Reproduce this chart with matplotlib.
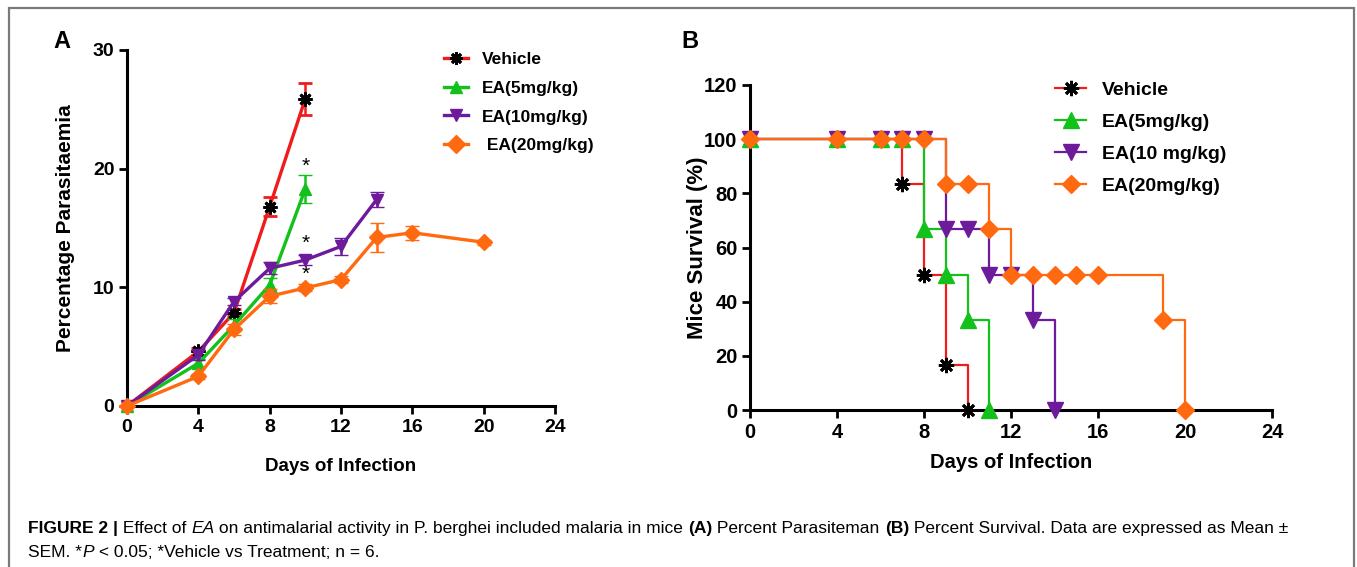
import matplotlib
matplotlib.use("Agg")
import matplotlib.pyplot as plt
from matplotlib.lines import Line2D
from matplotlib.patches import Rectangle
from matplotlib.transforms import IdentityTransform

# ---- panel A: percentage parasitaemia (mean +/- SEM) ----
days_vehicle = [0, 4, 6, 8, 10]
para_vehicle = [0, 4.6, 7.85, 16.8, 25.9]
sem_vehicle = [0, 0.3, 0.3, 0.8, 1.35]

days_ea5 = [0, 4, 6, 8, 10]
para_ea5 = [0, 3.6, 6.8, 10.2, 18.3]
sem_ea5 = [0, 0.4, 0.5, 0.6, 1.2]

days_ea10 = [0, 4, 6, 8, 10, 12, 14]
para_ea10 = [0, 4.3, 8.8, 11.6, 12.3, 13.45, 17.4]
sem_ea10 = [0, 0.4, 0.3, 0.5, 0.4, 0.7, 0.6]

days_ea20 = [0, 4, 6, 8, 10, 12, 14, 16, 20]
para_ea20 = [0, 2.5, 6.45, 9.25, 9.95, 10.65, 14.2, 14.6, 13.8]
sem_ea20 = [0, 0.2, 0.5, 0.6, 0.3, 0.3, 1.25, 0.6, 0.2]

# significance stars (day, level)
star_x = [10, 10, 10]
star_y = [20.2, 13.7, 11.1]

# ---- panel B: survival ----
surv_days_vehicle = [0, 4, 6, 7, 8, 9, 10]
surv_vehicle = [100, 100, 100, 83.3, 50, 16.7, 0]

surv_days_ea5 = [0, 4, 6, 7, 8, 9, 10, 11]
surv_ea5 = [100, 100, 100, 100, 66.7, 50, 33.3, 0]

surv_days_ea10 = [0, 4, 6, 7, 8, 9, 10, 11, 12, 13, 14]
surv_ea10 = [100, 100, 100, 100, 100, 66.7, 66.7, 50, 50, 33.3, 0]

surv_days_ea20 = [0, 4, 6, 7, 8, 9, 10, 11, 12, 13, 14, 15, 16, 19, 20]
surv_ea20 = [100, 100, 100, 100, 100, 83.3, 83.3, 66.7, 50, 50, 50, 50, 50, 33.3, 0]

labels_a = ["Vehicle", "EA(5mg/kg)", "EA(10mg/kg)", " EA(20mg/kg)"]
labels_b = ["Vehicle", "EA(5mg/kg)", "EA(10 mg/kg)", "EA(20mg/kg)"]

RED = "#f01c1c"
GREEN = "#12c11a"
PURPLE = "#6d1b9b"
ORANGE = "#ff6a10"
colors = [RED, GREEN, PURPLE, ORANGE]
markers = [(8, 2, 0), "^", "v", "D"]

SANS = ["Liberation Sans", "DejaVu Sans"]

W, H = 1357, 567
fig = plt.figure(figsize=(W / 100, H / 100), dpi=100)


def px_axes(x0, y0, x1, y1):
    # pixel box (top-left origin) -> figure fraction axes
    return fig.add_axes([x0 / W, 1 - y1 / H, (x1 - x0) / W, (y1 - y0) / H])


def style_axes(ax, tick_size):
    for s in ["top", "right"]:
        ax.spines[s].set_visible(False)
    for s in ["left", "bottom"]:
        ax.spines[s].set_linewidth(2.2)
    ax.tick_params(width=2, length=6, direction="out", pad=3)
    for lab in ax.get_xticklabels() + ax.get_yticklabels():
        lab.set_family(SANS)
        lab.set_fontweight("bold")
        lab.set_fontsize(tick_size)


# ---------------- Panel A ----------------
axA = px_axes(127, 50, 555, 406)
seriesA = [
    (days_vehicle, para_vehicle, sem_vehicle),
    (days_ea5, para_ea5, sem_ea5),
    (days_ea10, para_ea10, sem_ea10),
    (days_ea20, para_ea20, sem_ea20),
]
for i, (x, y, e) in enumerate(seriesA):
    mec = "black" if i == 0 else colors[i]
    ms = 10 if i == 0 else (9 if i < 3 else 8)
    axA.errorbar(x, y, yerr=e, color=colors[i], lw=2.4, elinewidth=1.8,
                 capsize=5, capthick=1.8, marker=markers[i], ms=ms,
                 mfc=mec, mec=mec, mew=2 if i == 0 else 1,
                 clip_on=False, zorder=3 + i)
for sx, sy in zip(star_x, star_y):
    axA.text(sx, sy, "*", ha="center", va="center", fontsize=15,
             family=SANS, color="black")
axA.set_xlim(0, 24)
axA.set_ylim(0, 30)
axA.set_xticks(range(0, 25, 4))
axA.set_yticks([0, 10, 20, 30])
style_axes(axA, 14)
axA.set_xlabel("Days of Infection", family=SANS, fontweight="bold",
               fontsize=13.5, labelpad=16)
axA.set_ylabel("Percentage Parasitaemia", family=SANS, fontweight="bold",
               fontsize=15, labelpad=13)

handlesA = [Line2D([], [], color=colors[i], lw=2.4, marker=markers[i],
                   ms=9, mfc="black" if i == 0 else colors[i],
                   mec="black" if i == 0 else colors[i], mew=2 if i == 0 else 1)
            for i in range(4)]
legA = fig.legend(handlesA, labels_a, loc="upper left",
                  bbox_to_anchor=(444 / W, 1 - 52 / H), frameon=False,
                  prop={"family": SANS, "weight": "bold", "size": 12.5},
                  handlelength=1.4, handletextpad=0.8, labelspacing=0.78,
                  borderaxespad=0, borderpad=0)

# ---------------- Panel B ----------------
axB = px_axes(750, 85, 1272, 410)
seriesB = [
    (surv_days_vehicle, surv_vehicle),
    (surv_days_ea5, surv_ea5),
    (surv_days_ea10, surv_ea10),
    (surv_days_ea20, surv_ea20),
]
for i, (x, y) in enumerate(seriesB):
    mec = "black" if i == 0 else colors[i]
    ms = 11 if i < 3 else 9
    axB.plot(x, y, drawstyle="steps-post", color=colors[i], lw=1.6,
             marker=markers[i], ms=ms, mfc=mec, mec=mec,
             mew=2 if i == 0 else 1, clip_on=False, zorder=3 + i)
axB.set_xlim(0, 24)
axB.set_ylim(0, 120)
axB.set_xticks(range(0, 25, 4))
axB.set_yticks(range(0, 121, 20))
style_axes(axB, 14.5)
axB.set_xlabel("Days of Infection", family=SANS, fontweight="bold",
               fontsize=14.5, labelpad=8)
axB.set_ylabel("Mice Survival (%)", family=SANS, fontweight="bold",
               fontsize=16, labelpad=-3)

handlesB = [Line2D([], [], color=colors[i], lw=1.6, marker=markers[i],
                   ms=11 if i < 3 else 9, mfc="black" if i == 0 else colors[i],
                   mec="black" if i == 0 else colors[i], mew=2 if i == 0 else 1)
            for i in range(4)]
legB = fig.legend(handlesB, labels_b, loc="upper left",
                  bbox_to_anchor=(1055 / W, 1 - 81 / H), frameon=False,
                  prop={"family": SANS, "weight": "bold", "size": 14},
                  handlelength=1.6, handletextpad=0.8, labelspacing=0.75,
                  borderaxespad=0, borderpad=0)

# panel letters
fig.text(53 / W, 1 - 42 / H, "A", family=SANS, fontweight="bold",
         fontsize=17, va="center")
fig.text(681 / W, 1 - 42 / H, "B", family=SANS, fontweight="bold",
         fontsize=17, va="center")

# outer frame
fig.patches.append(Rectangle((9, -5), 1345, H - 8 + 5, transform=IdentityTransform(),
                             fill=False, edgecolor="#7a7a7a", lw=1.6))

# ---------------- caption ----------------
line1 = [("FIGURE 2 |", "bold", "normal"), (" Effect of ", "normal", "normal"),
         ("EA", "normal", "italic"),
         (" on antimalarial activity in P. berghei included malaria in mice ", "normal", "normal"),
         ("(A)", "bold", "normal"), (" Percent Parasiteman ", "normal", "normal"),
         ("(B)", "bold", "normal"),
         (" Percent Survival. Data are expressed as Mean \u00b1", "normal", "normal")]
line2 = [("SEM. *", "normal", "normal"), ("P", "normal", "italic"),
         (" < 0.05; *Vehicle vs Treatment; n = 6.", "normal", "normal")]

renderer = fig.canvas.get_renderer()


def put_runs(runs, x, y, size):
    for s, weight, style in runs:
        t = fig.text(x, H - y, s, fontsize=size, fontweight=weight,
                     fontstyle=style, family=SANS, va="baseline",
                     transform=IdentityTransform())
        x = t.get_window_extent(renderer).x1


put_runs(line1, 28, 533, 12.5)
put_runs(line2, 28, 557, 12.5)

fig.savefig("out.png", dpi=100)
